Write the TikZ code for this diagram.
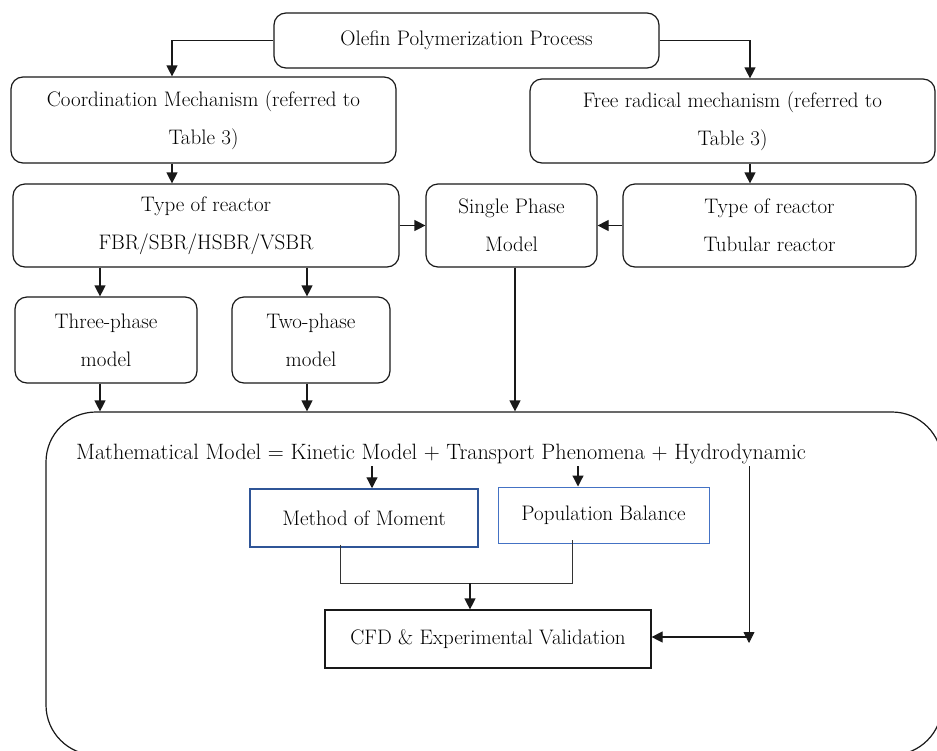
\documentclass[tikz,border=0pt]{standalone}
\usetikzlibrary{arrows.meta}
\definecolor{bluedark}{HTML}{2F5597}
\definecolor{bluelight}{HTML}{4472C4}
\begin{document}
\begin{tikzpicture}[x=1pt,y=-1pt,
  txt/.style={font=\fontsize{21}{38}\selectfont, text=black},
  rbox/.style={txt, draw=black!90, rounded corners=12pt, line width=1.2pt, align=center, inner sep=0pt},
  sbox/.style={txt, draw, line width=1.2pt, align=center, inner sep=0pt},
  arr/.style={-{Triangle[length=11pt,width=11pt]}, line width=1.2pt, draw=black!90},
  thin/.style={line width=0.8pt, draw=black!80}]
\clip (0,0) rectangle (937,750);
\fill[white] (0,0) rectangle (937,750);

% top level
\node[rbox, minimum width=385pt, minimum height=55pt] (olefin) at (466.5,40.5) {Olefin Polymerization Process};
\node[rbox, minimum width=385pt, minimum height=86pt] (coord) at (203.5,120) {Coordination Mechanism (referred to\\Table 3)};
\node[rbox, minimum width=405pt, minimum height=84pt] (free) at (732.5,121) {Free radical mechanism (referred to\\Table 3)};

% reactor row
\node[rbox, minimum width=386pt, minimum height=83pt] (typeL) at (206,225.5) {Type of reactor\\FBR/SBR/HSBR/VSBR};
\node[rbox, minimum width=171pt, minimum height=83pt] (single) at (511.5,225.5) {Single Phase\\Model};
\node[rbox, minimum width=293pt, minimum height=83pt] (typeR) at (769.5,225.5) {Type of reactor\\Tubular reactor};

% phase models
\node[rbox, minimum width=182pt, minimum height=86pt] (three) at (106,340) {Three-phase\\model};
\node[rbox, minimum width=158pt, minimum height=86pt] (two) at (311,340) {Two-phase\\model};

% big container
\node[draw=black!90, rounded corners=50pt, line width=1.2pt, minimum width=896pt, minimum height=343pt] (big) at (494,583.5) {};

\node[txt, font=\fontsize{22.2}{30}\selectfont, inner sep=2pt] (math) at (441,454) {Mathematical Model = Kinetic Model + Transport Phenomena + Hydrodynamic};

\node[sbox, draw=bluedark, line width=1.5pt, minimum width=228pt, minimum height=58pt] (mm) at (364,518) {Method of Moment};
\node[sbox, draw=bluelight, line width=1pt, minimum width=211pt, minimum height=56pt] (pb) at (603.5,515) {Population Balance};
\node[sbox, draw=black!90, minimum width=326pt, minimum height=58pt] (cfd) at (488,639) {CFD \& Experimental Validation};

% helper coordinates
\coordinate (xL) at (172,0);
\coordinate (xR) at (750,0);
\coordinate (x3) at (100,0);
\coordinate (x2) at (307,0);
\coordinate (xs) at (515,0);
\coordinate (xk) at (372,0);
\coordinate (xp) at (578,0);
\coordinate (j1) at (340,583);
\coordinate (j2) at (572,583);
\coordinate (j3) at (470,583);
\coordinate (h1) at (749,643);
\coordinate (h2) at (749,637);

% connectors
\draw[arr] (olefin.west) -| (coord.north -| xL);
\draw[arr] (olefin.east) -| (free.north -| xR);
\draw[arr] (coord.south -| xL) -- (typeL.north -| xL);
\draw[arr] (free.south -| xR) -- (typeR.north -| xR);
\draw[arr] (typeL.east) -- (single.west);
\draw[arr] (typeR.west) -- (single.east);
\draw[arr] (typeL.south -| x3) -- (three.north -| x3);
\draw[arr] (typeL.south -| x2) -- (two.north -| x2);
\draw[arr] (three.south -| x3) -- (big.north -| x3);
\draw[arr] (two.south -| x2) -- (big.north -| x2);
\draw[arr] (single.south -| xs) -- (big.north -| xs);
\draw[arr] (math.south -| xk) -- (mm.north -| xk);
\draw[arr] (math.south -| xp) -- (pb.north -| xp);
\draw[thin] ([yshift=3pt]mm.south -| j1) -- (j1) -- (j2) -- ([yshift=4pt]pb.south -| j2);
\draw[arr] (j3) -- (cfd.north -| j3);
\draw[arr, line width=0.8pt] (math.south -| h1) -- (h1);
\draw[arr] (h2) -- (cfd.east |- h2);
\end{tikzpicture}
\end{document}
